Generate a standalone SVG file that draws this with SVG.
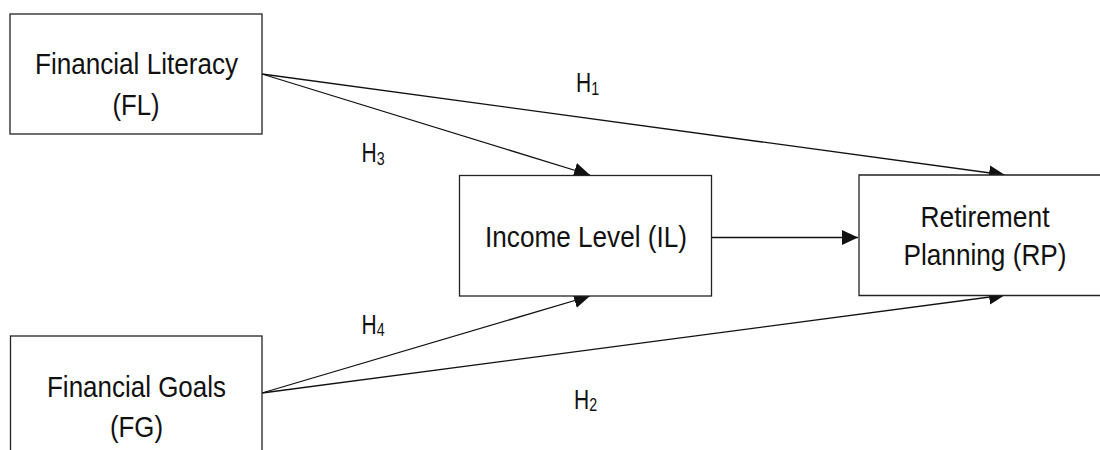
<svg xmlns="http://www.w3.org/2000/svg" width="1100" height="450" viewBox="0 0 1100 450">
<style>
.box{fill:#fff;stroke:#222;stroke-width:1.3}
.t{font-family:"Liberation Sans",Arial,sans-serif;font-size:29px;fill:#111;text-anchor:middle}
.h{font-family:"Liberation Sans",Arial,sans-serif;font-size:28px;fill:#111}
.c{stroke:#111;stroke-width:1.3;fill:none;marker-end:url(#ah)}
</style>
<defs>
<marker id="ah" markerUnits="userSpaceOnUse" markerWidth="17" markerHeight="16" refX="16" refY="7.5" orient="auto" viewBox="0 0 17 16">
<path d="M0,0 L16,7.5 L0,15 z" fill="#111"/>
</marker>
</defs>
<rect width="1100" height="450" fill="#fff"/>
<g id="connectors">
<line class="c" x1="262" y1="74" x2="1005" y2="175"/>
<line class="c" x1="262" y1="74" x2="590" y2="175"/>
<line class="c" x1="712" y1="237.5" x2="858" y2="237.5"/>
<line class="c" x1="262" y1="393" x2="590" y2="296"/>
<line class="c" x1="262" y1="393" x2="1005" y2="295"/>
</g>
<g id="labels">
<text class="h" transform="translate(576,92) scale(0.75,1)">H<tspan font-size="19" dy="2.5">1</tspan></text>
<text class="h" transform="translate(574,408.5) scale(0.75,1)">H<tspan font-size="19" dy="2.5">2</tspan></text>
<text class="h" transform="translate(361.5,162) scale(0.75,1)">H<tspan font-size="19" dy="2.5">3</tspan></text>
<text class="h" transform="translate(361.5,333.5) scale(0.75,1)">H<tspan font-size="19" dy="2.5">4</tspan></text>
</g>
<g id="FL">
<rect class="box" x="10" y="14" width="252" height="120"/>
<text class="t" x="136.5" y="74" textLength="203" lengthAdjust="spacingAndGlyphs">Financial Literacy</text>
<text class="t" x="136" y="115" textLength="47" lengthAdjust="spacingAndGlyphs">(FL)</text>
</g>
<g id="FG">
<rect class="box" x="10.5" y="336" width="251.5" height="130"/>
<text class="t" x="136.5" y="397" textLength="179" lengthAdjust="spacingAndGlyphs">Financial Goals</text>
<text class="t" x="136.5" y="437" textLength="53" lengthAdjust="spacingAndGlyphs">(FG)</text>
</g>
<g id="IL">
<rect class="box" x="459.5" y="175.5" width="252" height="120.5"/>
<text class="t" x="586" y="247" textLength="202" lengthAdjust="spacingAndGlyphs">Income Level (IL)</text>
</g>
<g id="RP">
<path class="box" d="M1110,175 H859 V295.5 H1110"/>
<text class="t" x="985" y="227" textLength="129" lengthAdjust="spacingAndGlyphs">Retirement</text>
<text class="t" x="985" y="265" textLength="163" lengthAdjust="spacingAndGlyphs">Planning (RP)</text>
</g>
</svg>
